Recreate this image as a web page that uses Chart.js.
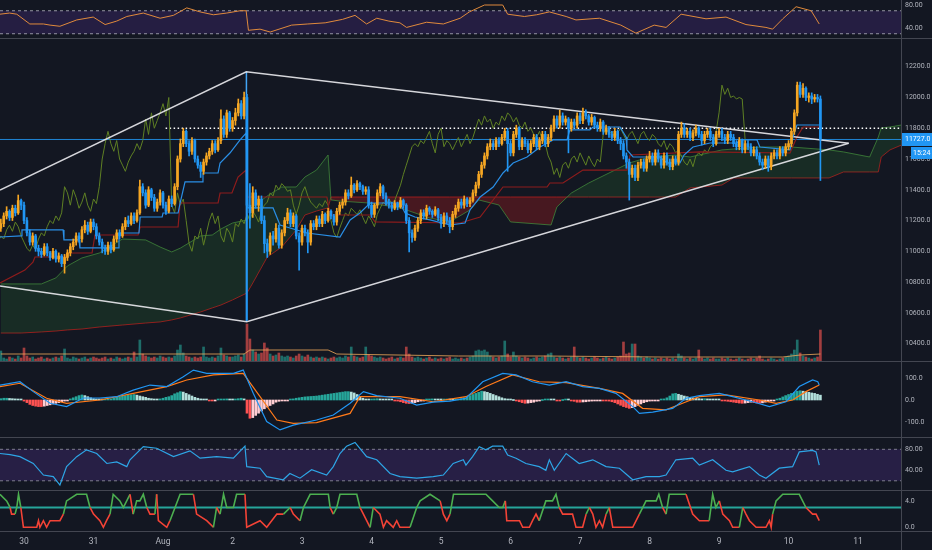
<!DOCTYPE html>
<html><head><meta charset="utf-8">
<script src="https://cdn.jsdelivr.net/npm/chart.js"></script>
<style>
html,body{margin:0;padding:0;background:#131722;}
#wrap{position:relative;width:932px;height:550px;overflow:hidden;background:#131722;}
canvas{position:absolute;left:0;}
.sep{position:absolute;left:0;width:932px;height:1px;background:#434651;}
.vsep{position:absolute;left:901px;top:0;width:1px;height:550px;background:#434651;}
</style></head><body>
<div id="wrap">
<canvas id="cRsiTop" width="932" height="38" style="top:0px"></canvas>
<canvas id="cMain" width="932" height="324" style="top:38px"></canvas>
<canvas id="cMacd" width="932" height="75" style="top:362px"></canvas>
<canvas id="cRsi2" width="932" height="53" style="top:437px"></canvas>
<canvas id="cInd" width="932" height="60" style="top:490px"></canvas>
<div class="sep" style="top:38px"></div>
<div class="sep" style="top:361px"></div>
<div class="sep" style="top:437px"></div>
<div class="sep" style="top:490px"></div>
<div class="sep" style="top:531px"></div>
<div class="vsep"></div>
</div>
<script>
// ---------- DATA (hours counted from 30 Jul 00:00, 1h bars) ----------
const START_HOUR = -8;
const FIRST_OPEN = 11150;
const COUNTDOWN = '15:24';
const xTickHours = [0,24,48,72,96,120,144,168,192,216,240,264,288];
const xTickLabels = ['30','31','Aug','2','3','4','5','6','7','8','9','10','11'];
const priceTicks = [10400,10600,10800,11000,11200,11400,11600,11800,12000,12200];

const closes = [11180,11230,11260,11220,11280,11250,11330,11300,
 11200,11120,11060,11100,11020,11000,10980,11030,10990,10960,11000,10950,
 10970,10920,10960,10990,11030,11060,11100,11080,11140,11170,11130,11190,
 11160,11100,11060,11020,11000,11040,11010,11080,11120,11100,11160,11200,
 11180,11230,11200,11250,11420,11380,11300,11400,11350,11280,11320,11380,
 11300,11260,11340,11310,11420,11600,11700,11780,11700,11650,11720,11600,
 11560,11520,11580,11620,11650,11700,11660,11720,11860,11760,11900,11800,
 11850,11900,11960,11880,12000,11300,11250,11380,11300,11340,11200,11050,
 11000,11100,11080,11150,11040,11120,11200,11250,11180,11230,11100,11060,
 11150,11120,11060,11180,11160,11210,11180,11240,11200,11260,11230,11190,
 11260,11300,11320,11380,11360,11430,11400,11440,11420,11390,11400,11300,
 11240,11300,11380,11420,11360,11320,11300,11280,11310,11290,11330,11300,
 11200,11120,11090,11150,11200,11250,11230,11280,11260,11240,11270,11220,
 11180,11230,11200,11160,11240,11280,11320,11300,11340,11310,11330,11380,
 11430,11500,11560,11620,11680,11700,11680,11720,11700,11740,11780,11700,
 11640,11760,11800,11680,11720,11700,11660,11700,11740,11680,11720,11760,
 11700,11740,11800,11860,11820,11880,11840,11860,11800,11840,11820,11880,
 11850,11900,11880,11840,11870,11820,11800,11840,11780,11800,11760,11740,
 11780,11720,11700,11620,11580,11500,11540,11480,11560,11580,11540,11600,
 11620,11580,11640,11600,11560,11620,11580,11550,11600,11580,11760,11800,
 11760,11780,11740,11770,11800,11760,11720,11760,11780,11740,11700,11760,
 11780,11740,11720,11760,11740,11700,11680,11720,11660,11700,11680,11640,
 11660,11620,11580,11560,11600,11550,11620,11640,11620,11660,11640,11680,
 11700,11780,11900,12080,12020,12060,12000,12010,11990,12000,11990,11727];

const highs = [11210,11250,11290,11270,11300,11300,11366,11340,
 11320,11220,11140,11120,11110,11040,11020,11050,11050,11000,11020,11010,
 10990,10980,10980,11010,11050,11080,11120,11120,11160,11200,11190,11210,
 11210,11180,11120,11080,11040,11060,11060,11100,11140,11140,11180,11220,
 11230,11250,11250,11270,11463,11440,11400,11420,11410,11370,11340,11400,
 11390,11320,11360,11360,11440,11620,11730,11800,11790,11720,11740,11730,
 11620,11580,11600,11640,11670,11720,11720,11740,11920,11880,11918,11910,
 11870,11930,11990,11980,12035,12020,11440,11420,11400,11360,11360,11230,
 11080,11120,11130,11180,11170,11140,11220,11280,11270,11250,11240,11120,
 11170,11170,11140,11200,11200,11230,11230,11260,11250,11280,11270,11240,
 11280,11320,11340,11400,11400,11483,11440,11460,11450,11430,11420,11420,
 11320,11310,11400,11440,11430,11380,11340,11320,11330,11320,11350,11340,
 11310,11220,11140,11170,11220,11270,11270,11300,11290,11270,11290,11280,
 11240,11250,11250,11220,11260,11300,11340,11340,11360,11350,11350,11400,
 11450,11520,11580,11640,11700,11730,11720,11740,11740,11760,11800,11800,
 11720,11780,11820,11810,11740,11740,11720,11720,11760,11760,11740,11780,
 11780,11760,11820,11880,11880,11918,11900,11880,11870,11860,11860,11900,
 11900,11931,11920,11890,11890,11880,11840,11860,11850,11820,11810,11780,
 11800,11790,11740,11720,11640,11600,11560,11560,11580,11600,11600,11620,
 11650,11640,11660,11660,11620,11640,11640,11600,11620,11620,11780,11840,
 11830,11800,11800,11790,11820,11810,11780,11780,11800,11800,11760,11780,
 11800,11800,11760,11780,11780,11760,11720,11740,11730,11720,11720,11700,
 11680,11680,11640,11600,11620,11620,11640,11660,11660,11680,11680,11700,
 11720,11800,11920,12100,12100,12090,12070,12030,12030,12020,12020,12010];

const lows = [11130,11160,11210,11200,11200,11230,11240,11270,
 11180,11100,11040,11040,11000,10970,10960,10970,10970,10940,10950,10930,
 10930,10900,10858,10940,10970,11010,11040,11060,11060,11120,11110,11120,
 11140,11080,11040,10990,10980,10980,10990,11000,11060,11080,11090,11140,
 11160,11170,11180,11190,11240,11360,11280,11290,11330,11260,11260,11300,
 11280,11240,11250,11290,11300,11400,11580,11680,11680,11620,11630,11580,
 11540,11480,11500,11560,11600,11630,11640,11650,11700,11740,11740,11780,
 11780,11820,11880,11860,11860,10550,11150,11220,11280,11260,11180,10990,
 10960,10980,11040,11060,11020,11020,11100,11180,11160,11160,11080,10878,
 11040,11100,10990,11040,11140,11140,11160,11160,11180,11190,11210,11170,
 11170,11240,11280,11300,11340,11350,11380,11390,11400,11370,11370,11280,
 11220,11220,11280,11360,11340,11300,11280,11260,11270,11270,11280,11280,
 11180,10996,11060,11070,11130,11180,11210,11210,11240,11220,11230,11200,
 11150,11160,11180,11120,11140,11220,11260,11280,11280,11290,11290,11320,
 11360,11410,11480,11540,11600,11660,11660,11660,11680,11690,11720,11520,
 11620,11620,11740,11660,11660,11680,11640,11640,11680,11660,11660,11700,
 11680,11680,11720,11780,11800,11800,11820,11820,11640,11780,11800,11800,
 11830,11830,11860,11820,11820,11800,11780,11780,11760,11760,11740,11720,
 11720,11700,11660,11600,11540,11333,11480,11460,11460,11540,11520,11520,
 11580,11560,11560,11580,11540,11540,11560,11530,11530,11560,11560,11740,
 11740,11740,11720,11720,11750,11740,11690,11700,11740,11720,11680,11690,
 11740,11720,11700,11700,11720,11680,11660,11660,11640,11640,11660,11620,
 11620,11600,11560,11530,11540,11520,11530,11600,11600,11600,11620,11620,
 11660,11680,11760,11880,12000,12000,11980,11970,11960,11970,11970,11460];

const volumes = [11,4,3,5,4,3,6,4,
 14,6,4,5,3,4,5,3,4,3,4,5,
 4,6,13,4,3,5,4,3,4,5,3,4,
 5,4,3,4,5,3,4,3,5,4,3,4,
 5,4,10,5,22,8,6,5,4,5,4,6,
 5,4,5,4,6,12,17,9,6,5,4,5,
 4,5,15,5,4,5,4,6,14,7,6,5,
 5,6,7,5,8,38,23,12,10,8,9,19,
 14,8,6,7,9,6,5,6,5,4,6,8,
 6,5,7,5,4,5,4,5,4,3,4,5,
 4,5,4,6,5,15,6,5,4,5,15,7,
 6,5,4,5,4,3,4,5,3,4,5,4,
 15,8,5,4,5,4,3,4,5,3,4,3,
 4,3,4,5,3,4,3,4,3,4,5,6,
 11,12,11,12,10,6,5,4,5,6,21,8,
 5,10,6,5,4,5,4,3,4,5,4,5,
 6,8,9,5,4,5,4,3,4,5,15,5,
 4,5,4,3,4,5,4,3,4,5,4,3,
 4,5,6,20,8,9,18,18,6,5,4,5,
 4,3,4,3,4,3,4,3,4,3,8,6,
 4,3,4,3,4,12,4,3,4,3,4,3,
 3,4,3,4,3,2,3,4,3,2,3,4,
 3,4,6,3,2,3,4,3,2,3,4,5,
 6,8,12,22,9,6,5,4,3,4,5,32];
const volumeMA = [[-8,8],[76,8],[78,12],[105,12],[108,8],[150,6],[180,6],[220,5],[262,5],[268,7],[275,8]];

const tenkan = [[-8.3,11093],[-1,11100],[-0.7,11139],[13.5,11139],[13.8,11074],[19,11074],[19.3,11022],[32.5,11022],[32.8,11119],[39.7,11119],[40.1,11223],[47.7,11223],[48,11249],[53.2,11249],[53.9,11314],[55.6,11451],[61.5,11451],[61.8,11509],[67,11509],[67.7,11574],[71.1,11639],[74.6,11724],[76.7,11769],[77.3,11282],[86,11282],[88.4,11171],[97.7,11119],[109.1,11093],[112.6,11204],[116,11249],[119.5,11314],[129.8,11314],[131.6,11249],[135,11223],[140.2,11204],[147.1,11171],[152.3,11184],[154,11269],[157.5,11353],[162,11418],[165.4,11509],[168.9,11574],[173.7,11613],[178.2,11678],[182.7,11724],[187.5,11724],[188.5,11789],[195.4,11789],[196.5,11808],[205.8,11808],[207.9,11743],[208.2,11659],[210.3,11613],[219.6,11613],[222,11574],[226.5,11574],[227.9,11626],[231,11678],[236.9,11704],[246.2,11704],[247.2,11724],[253.1,11724],[254.1,11678],[264.5,11659],[265.5,11743],[266.9,11821],[275,11821]];

const kijun = [[-8.3,10794],[0.3,10878],[3.1,10930],[3.8,10963],[14.5,10963],[14.8,10989],[23.5,10989],[24.5,11106],[39.4,11106],[40.1,11158],[53.2,11158],[53.9,11314],[67,11314],[67.7,11379],[71.8,11379],[73.9,11483],[76.7,11528],[77,11353],[104.6,11353],[105.7,11236],[119.5,11236],[121.2,11191],[150.6,11184],[157.5,11223],[165.4,11418],[180.6,11418],[181.6,11444],[186.1,11444],[193,11528],[208.2,11528],[209.3,11626],[233.4,11646],[264.5,11639],[266.9,11743],[269,11808],[275,11808]];

const cloudHours = [-8,-1,6,11,15,20,26,34,42,47,51,54,61,65,68,72,77,79,84,89,94,97,101,105,106,109,119,130,140,147,154,157,164,168,182,184,189,195,202,209,216,225,230,241,245,254,265,278,283,292,295,296,299,303];
const spanA = [10788,10788,10788,10827,10905,10957,10989,11080,11074,11028,10996,11021,11100,11106,11145,11184,11204,11288,11360,11418,11418,11483,11528,11626,11334,11327,11314,11282,11217,11191,11269,11334,11301,11191,11171,11288,11379,11444,11509,11574,11613,11626,11613,11659,11665,11678,11678,11659,11646,11613,11743,11802,11808,11821];
const spanB = [10469,10469,10476,10482,10489,10495,10508,10521,10534,10541,10554,10567,10606,10632,10651,10684,10729,10794,10963,11028,11139,11236,11262,11282,11353,11353,11353,11353,11353,11353,11353,11353,11353,11353,11353,11353,11353,11353,11353,11353,11353,11353,11412,11431,11477,11477,11477,11477,11516,11516,11516,11613,11659,11691];
const CHIKOU_SHIFT = 26;

// drawn lines (triangle, vertical, levels)
const triangleUpper = [[-8.29,11398],[76.76,12167],[284.77,11702]];
const triangleLower = [[-8.29,10774],[76.9,10542],[284.77,11702]];
const crashMarker = [[76.8,12167],[76.8,10542]];
const dottedLevel = 11800, dottedFrom = 48.9;

const rsiTop = [[-8.3,64],[-5,66],[-2.5,64],[2,47],[6.7,47],[9,45],[12.4,43],[18.2,54],[23.9,59],[28,46],[32,52],[35.5,60],[41.2,66],[47,57],[51.6,62],[56.2,75],[60.8,68],[65.4,63],[70,66],[74.6,70],[76.7,70],[77.5,36],[81.5,38],[85,33],[92.4,45],[98,47],[104,49],[110,55],[114.3,62],[118.3,47],[121.8,57],[126,52],[129.8,49],[132.1,41],[139,50],[144.8,47],[150.6,57],[153.8,68],[159,80],[165.3,80],[167,64],[172.8,60],[177,63],[181.4,68],[187.2,60],[190.6,54],[198.7,57],[206.1,45],[211.3,31],[217.6,45],[221.7,41],[226.9,64],[235.5,56],[242.4,59],[249.3,46],[256.2,41],[258.5,38],[262,56],[266.6,77],[271.8,70],[274.6,47]];

const macdLine = [[-8.3,68],[-1.4,83],[3.2,38],[9,-15],[14.7,-30],[20.5,9],[26.2,9],[32,15],[37.7,45],[43.5,68],[49.3,61],[55,106],[58.5,136],[63.1,121],[72.3,121],[75.7,136],[79.2,30],[83.8,-98],[88.4,-136],[93,-114],[101,-91],[106.8,-68],[112.6,-15],[117.2,38],[121.8,20],[129.8,8],[135.6,-23],[141.3,-10],[147.1,-5],[152.6,8],[158.4,83],[165.3,121],[169.9,114],[175.6,83],[181.4,68],[187.2,83],[192.9,61],[198.7,53],[204.4,30],[210.2,-30],[212.5,-61],[217.1,-55],[224,-38],[228.6,8],[233.2,20],[240.1,30],[244.7,15],[251.6,-8],[257.4,-30],[263.1,-8],[267.7,61],[272.3,91],[274.1,83],[274.6,68]];
const signalLine = [[-8.3,61],[-1.4,76],[7.8,8],[14.7,-15],[26.2,0],[37.7,30],[49.3,61],[56.2,91],[65.4,114],[75.7,121],[81.5,15],[87.3,-91],[93,-106],[101,-103],[112.6,-61],[116,15],[129.8,15],[141.3,-8],[152.6,15],[159.5,61],[168.7,114],[177.9,83],[187.2,79],[198.7,53],[206.7,30],[213.6,-38],[221.7,-45],[227.4,-15],[233.2,15],[242.4,23],[253.9,0],[259.7,-15],[265.4,0],[270,38],[274.6,68]];
const macdHist = [6,8,8,7,6,5,4,3,
 -5,-12,-20,-25,-28,-30,-30,-28,-25,-22,-18,-15,
 -12,-8,-5,-2,5,10,15,20,23,20,15,10,
 6,4,3,2,3,4,5,8,12,15,18,20,
 22,24,25,22,18,15,12,8,6,4,3,5,
 8,12,15,20,28,33,38,36,30,24,18,12,
 8,5,3,2,-2,-4,-3,2,3,4,5,3,
 2,4,6,8,5,-60,-83,-80,-70,-60,-50,-40,
 -32,-25,-18,-10,-6,-3,-2,-1,2,5,8,10,
 12,14,15,16,17,18,20,22,24,26,28,30,
 32,34,36,38,38,36,32,25,15,8,4,3,
 4,5,6,5,4,3,2,1,-2,-5,-8,-12,
 -15,-16,-14,-12,-8,-5,-2,2,4,5,4,3,
 2,3,4,3,2,3,4,6,10,15,20,25,
 30,35,40,38,35,30,25,20,15,10,6,4,
 2,0,-4,-8,-12,-15,-14,-12,-10,-6,-3,0,
 2,3,2,1,-1,-2,0,2,1,-3,-6,-10,
 -10,-9,-8,-6,-5,-4,-3,-2,-3,-4,-5,-8,
 -12,-18,-24,-30,-34,-38,-35,-30,-24,-18,-12,-8,
 -5,-3,-2,-1,2,5,10,18,28,30,26,22,
 18,15,12,10,8,6,5,6,5,4,3,2,
 1,-2,-4,-6,-8,-10,-12,-14,-15,-14,-12,-10,
 -12,-14,-15,-13,-10,-8,-5,-2,3,8,14,20,
 25,30,35,40,42,40,38,35,32,30,26,22];

const rsi2 = [[-8.3,72],[-4.8,70],[-1.4,66],[3.2,53],[6.7,31],[10.1,28],[12.4,12],[14.7,47],[18.2,66],[21.6,79],[25.1,72],[28.6,53],[32,56],[35.5,47],[36.6,60],[41.2,85],[45.8,82],[51.6,66],[57.3,77],[60.8,63],[66.5,66],[72.3,63],[76.3,86],[76.9,47],[81.5,44],[83.8,28],[89.5,22],[91.8,34],[95.3,25],[99.3,41],[104.5,31],[106.8,47],[109.1,72],[111.4,86],[114.3,93],[118.3,66],[121.8,60],[126.4,34],[129.8,28],[135.6,25],[141.3,28],[144.8,31],[148.2,53],[151.7,60],[152.6,50],[154.9,66],[157.2,85],[159.5,79],[161.8,86],[165.3,86],[167,69],[169.9,63],[173.3,53],[177.9,47],[180.2,40],[181.4,60],[183.1,40],[187.2,72],[191.7,53],[196.4,60],[201,47],[205.6,44],[210.2,22],[214.8,28],[219.4,28],[221.7,31],[225.1,60],[230.9,63],[233.2,50],[237.8,60],[242.4,40],[244.7,37],[250.5,47],[253.9,31],[256.2,25],[260.8,44],[265.4,47],[267.7,75],[272.3,78],[273.5,75],[274.6,50]];

const trendScore = [[-8.3,5],[-6,4],[-4.8,3],[-4.3,2],[-3.1,2],[-2.5,3],[-1.9,5],[-1.1,3],[-0.2,0],[4.4,0],[5,1],[5.5,0],[6.7,1],[7.8,0],[9,1],[12.4,1],[13.6,2],[14.7,4],[18.2,5],[21.6,5],[22.8,3],[24,2],[26.2,1],[27.4,0],[28.5,1],[29.7,2],[30.8,5],[33.1,4],[34.3,3],[36.6,5],[37.7,2],[38.9,4],[40,4],[41.2,5],[42.4,3],[43.5,2],[45.2,2],[45.8,5],[46.4,1],[49.3,0],[50.4,1],[53.9,5],[58.5,5],[59.6,2],[63.1,1],[65.4,0],[66.5,3],[67.7,2],[68.9,5],[70,3],[72.3,3],[73.4,5],[76.3,5],[76.9,0],[81.5,1],[83.8,0],[87.3,2],[89.6,2],[91.9,3],[93,2],[95.3,1],[96.5,3],[98.8,5],[105.1,5],[105.7,3],[106.8,2],[108,3],[109.1,5],[114.9,5],[116,3],[117.2,2],[119.5,0],[120.6,3],[122.9,2],[124.1,0],[125.2,1],[127.5,0],[128.7,1],[129.8,0],[133.3,0],[135.6,3],[136.8,4],[140.2,5],[143.7,4],[144.8,2],[146,1],[147.1,2],[148.3,5],[159.5,5],[161.8,4],[164.1,3],[165.3,3],[166.2,4],[166.7,1],[171.1,1],[172.2,0],[174.5,0],[175.6,1],[176.8,2],[177.9,1],[180.2,4],[182.5,4],[183.7,5],[184.8,3],[186,2],[189.4,2],[190.6,0],[192.9,0],[194.1,2],[195.2,3],[196.4,2],[197.5,0],[198.7,1],[199.8,0],[201,2],[202.1,3],[203.3,0],[210.2,0],[212.5,2],[214.8,4],[218.3,4],[219.2,5],[220.5,3],[221.7,2],[222.8,5],[228.6,5],[230.9,2],[233.2,1],[236.6,1],[237.8,5],[238.9,3],[240.1,4],[241.3,2],[243.6,1],[244.7,0],[247,0],[248.2,3],[249.3,2],[250.5,1],[252.8,0],[256.2,0],[257.4,1],[258,0],[258.5,2],[259.7,4],[262,5],[267.7,5],[270,3],[272.3,2],[273.5,2],[274.6,1]];
const trendLevel = 3;

// ---------- STYLE ----------
const FONT = 'Roboto, "Liberation Sans", Arial, sans-serif';
const TXT = '#b2b5be';
const UP = '#f5a623', DOWN = '#2196f3';
const X_MIN = -8.29, X_MAX = 302.83;

function xScale(show){
  const s = {type:'linear', min:X_MIN, max:X_MAX, offset:false, display:show,
    grid:{display:false, drawTicks:false}, border:{display:false},
    afterBuildTicks: sc => { sc.ticks = xTickHours.map(v => ({value:v})); },
    afterFit: sc => { if (show) sc.height = 19; sc.paddingLeft = 0; sc.paddingRight = 0; },
    ticks:{color:TXT, font:{family:FONT, size:8.5}, maxRotation:0, autoSkip:false, padding:6,
      callback: v => { const i = xTickHours.indexOf(v); return i >= 0 ? xTickLabels[i] : ''; }}};
  return s;
}
function yScale(min, max, ticks, dec){
  return {type:'linear', position:'right', min, max,
    grid:{display:false, drawTicks:false}, border:{display:false},
    afterFit: sc => { sc.width = 31; sc.paddingTop = 0; sc.paddingBottom = 0; },
    afterBuildTicks: sc => { sc.ticks = ticks.map(v => ({value:v})); },
    ticks:{color:TXT, font:{family:FONT, size:7}, padding:4, autoSkip:false,
      callback: v => Number(v).toFixed(dec)}};
}
function line(points, color, width, extra){
  return Object.assign({type:'line', data: points.map(p => ({x:p[0], y:p[1]})),
    borderColor: color, borderWidth: width, pointRadius: 0, tension: 0, fill: false}, extra || {});
}
function hline(v, color, width, extra, from){
  return line([[from === undefined ? X_MIN : from, v],[X_MAX, v]], color, width, extra);
}
function mk(id, datasets, scales, plugins){
  return new Chart(document.getElementById(id), {
    type:'bar', data:{datasets},
    options:{responsive:false, animation:false, events:[], layout:{padding:0},
      plugins:{legend:{display:false}, tooltip:{enabled:false}}, scales},
    plugins: plugins || []});
}

// ---------- DERIVED ----------
const hours = closes.map((_, i) => START_HOUR + i);
const opens = closes.map((c, i) => i === 0 ? FIRST_OPEN : closes[i - 1]);
const isUp = closes.map((c, i) => c >= opens[i]);

// ---------- TOP RSI ----------
mk('cRsiTop', [
  line(rsiTop, '#e08a3c', 1, {order:0}),
  hline(70, 'rgba(190,190,200,0.75)', 1, {borderDash:[3,3], order:1}),
  hline(30, 'rgba(190,190,200,0.75)', 1, {borderDash:[3,3], order:2,
    fill:{target:1, above:'rgba(103,58,183,0.22)', below:'rgba(103,58,183,0.22)'}})
], {x:xScale(false), y:yScale(22.6, 88.7, [40, 80], 2)});

// ---------- MAIN ----------
const priceTag = {
  id:'priceTag',
  afterDraw(chart){
    const {ctx, chartArea} = chart;
    const y = chart.scales.y;
    const last = closes[closes.length - 1];
    const py = Math.round(y.getPixelForValue(last));
    ctx.save();
    ctx.fillStyle = '#2196f3';
    ctx.fillRect(chartArea.right, py - 6, 31, 13);
    ctx.fillRect(chartArea.right + 10, py + 8, 21, 12);
    ctx.fillStyle = '#ffffff';
    ctx.font = '7px ' + FONT;
    ctx.textBaseline = 'middle';
    ctx.fillText(last.toFixed(1), chartArea.right + 4, py + 0.5);
    ctx.fillText(COUNTDOWN, chartArea.right + 12, py + 14);
    ctx.restore();
  }
};
const GREEN_FILL = 'rgba(46,125,50,0.22)', RED_FILL = 'rgba(183,28,28,0.32)';
const mainSets = [
  {type:'bar', order:0, grouped:false, barThickness:2, minBarLength:1,
    data: hours.map((h, i) => ({x:h, y:[opens[i], closes[i]]})),
    backgroundColor: isUp.map(u => u ? UP : DOWN)},
  {type:'bar', order:1, grouped:false, barThickness:1,
    data: hours.map((h, i) => ({x:h, y:[lows[i], highs[i]]})),
    backgroundColor: isUp.map(u => u ? UP : DOWN)},
  line(tenkan, '#2a8fe6', 1.2, {order:2}),
  line(kijun, '#8e1c1c', 1.2, {order:3}),
  line(closes.map((c, i) => [hours[i] - CHIKOU_SHIFT, c]), '#5f8024', 1, {order:4}),
  line(triangleUpper, 'rgba(235,235,240,0.9)', 1.5, {order:2}),
  line(triangleLower, 'rgba(235,235,240,0.9)', 1.5, {order:2}),
  line(crashMarker, '#42a5f5', 1.5, {order:2}),
  hline(closes[closes.length - 1], 'rgba(33,150,243,0.85)', 1, {order:5}),
  hline(dottedLevel, '#ffffff', 1.5, {order:5, borderDash:[1.5,2.5]}, dottedFrom),
  line(cloudHours.map((h, i) => [h, spanA[i]]), 'rgba(67,140,60,0.75)', 1,
    {order:8, fill:{target:11, above:GREEN_FILL, below:RED_FILL}}),
  line(cloudHours.map((h, i) => [h, spanB[i]]), 'rgba(170,30,30,0.85)', 1, {order:9}),
  line(volumeMA, 'rgba(240,170,90,0.8)', 1, {order:10, yAxisID:'vol'}),
  {type:'bar', order:11, grouped:false, barThickness:2, yAxisID:'vol',
    data: hours.map((h, i) => ({x:h, y:volumes[i]})),
    backgroundColor: isUp.map(u => u ? 'rgba(38,166,154,0.6)' : 'rgba(239,83,80,0.65)')}
];
mk('cMain', mainSets, {
  x:xScale(false),
  y:yScale(10280.5, 12386.6, priceTicks, 1),
  vol:{type:'linear', display:false, min:0, max:324}
}, [priceTag]);

// ---------- MACD ----------
const histColors = macdHist.map((v, i) => {
  const p = i > 0 ? macdHist[i - 1] : v;
  if (v >= 0) return v >= p ? '#26a69a' : '#b2dfdb';
  return v <= p ? '#ff5252' : '#ffcdd2';
});
mk('cMacd', [
  line(macdLine, '#2196f3', 1.2, {order:0}),
  line(signalLine, '#ff7a1a', 1.2, {order:1}),
  {type:'bar', order:2, grouped:false, barThickness:2, minBarLength:1,
    data: hours.map((h, i) => ({x:h, y:macdHist[i]})), backgroundColor: histColors}
], {x:xScale(false), y:yScale(-168.2, 172.7, [-100, 0, 100], 1)});

// ---------- RSI 2 ----------
mk('cRsi2', [
  line(rsi2, '#2ea6e6', 1.2, {order:0}),
  hline(80, 'rgba(190,190,200,0.6)', 1, {borderDash:[3,3], order:1}),
  hline(20, 'rgba(190,190,200,0.6)', 1, {borderDash:[3,3], order:2,
    fill:{target:1, above:'rgba(103,58,183,0.24)', below:'rgba(103,58,183,0.24)'}})
], {x:xScale(false), y:yScale(2.5, 103.4, [40, 80], 2)});

// ---------- TREND SCORE ----------
mk('cInd', [
  line(trendScore, '#4caf50', 1.6, {order:0,
    segment:{borderColor: ctx => ctx.p1.parsed.y >= trendLevel ? '#4caf50' : '#f44336'}}),
  hline(trendLevel, '#26a69a', 2, {order:1})
], {x:xScale(true), y:yScale(-0.56, 5.65, [0, 4], 1)});
</script>
</body></html>
